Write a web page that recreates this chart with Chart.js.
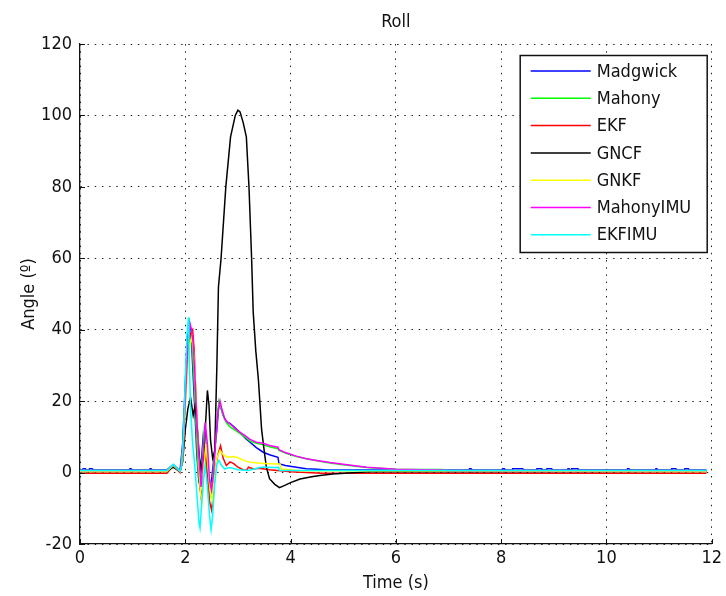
<!DOCTYPE html>
<html>
<head>
<meta charset="utf-8">
<title>Roll</title>
<script src="https://cdn.jsdelivr.net/npm/chart.js@4.4.1/dist/chart.umd.min.js"></script>
<style>
  html, body { margin: 0; padding: 0; background: #ffffff; }
  #wrap { width: 726px; height: 596px; }
</style>
</head>
<body>
<div id="wrap"><canvas id="rollChart" width="726" height="596"></canvas></div>
<script>
// Roll angle estimated by each filter (degrees) against time (s)
const seriesNames = ['Madgwick', 'Mahony', 'EKF', 'GNCF', 'GNKF', 'MahonyIMU', 'EKFIMU'];
const seriesColors = ['#0000ff', '#00ff00', '#ff0000', '#000000', '#ffff00', '#ff00ff', '#00ffff'];

const xTicks = [0, 2, 4, 6, 8, 10, 12];
const yTicks = [-20, 0, 20, 40, 60, 80, 100, 120];

const tMadgwick = [0, 0.05, 0.06, 0.1, 0.11, 0.17, 0.18, 0.23, 0.24, 0.94, 0.95, 0.97, 0.98, 1.32, 1.33, 1.35, 1.36,
  1.65, 1.77, 1.9, 1.95, 2.0, 2.04, 2.08, 2.11, 2.14, 2.18, 2.22, 2.26, 2.3, 2.34, 2.38, 2.42, 2.46, 2.5, 2.55,
  2.6, 2.64, 2.68, 2.72, 2.78, 2.85, 2.95, 3.05, 3.15, 3.23, 3.35, 3.48, 3.6, 3.76, 3.78, 3.9, 4.11, 4.3, 4.5,
  4.7, 7.39, 7.4, 7.43, 7.44, 8.02, 8.03, 8.06, 8.07, 8.21, 8.22, 8.41, 8.42, 8.67, 8.68, 8.77, 8.78, 8.86,
  8.87, 8.96, 8.97, 9.26, 9.27, 9.29, 9.3, 9.33, 9.34, 9.46, 9.47, 10.39, 10.4, 10.43, 10.44, 10.93, 10.94,
  10.96, 10.97, 11.23, 11.24, 11.32, 11.33, 11.48, 11.49, 11.56, 11.57, 11.9];
const madgwick = [0.7, 0.7, 1.1, 1.1, 0.7, 0.7, 1.1, 1.1, 0.7, 0.7, 1.1, 1.1, 0.7, 0.7, 1.1, 1.1, 0.7,
  0.7, 2.2, 0.5, 8, 25, 38, 42, 39, 30, 18, 5, -3, 2, 10, 6, -2, -5, -2, 5,
  12, 19.5, 18, 16, 14.2, 13.8, 12.5, 11, 9.5, 8.5, 7, 5.7, 5, 4.3, 2.5, 2.0, 1.5, 1.1, 0.9,
  0.7, 0.7, 1.1, 1.1, 0.7, 0.7, 1.1, 1.1, 0.7, 0.7, 1.1, 1.1, 0.7, 0.7, 1.1, 1.1, 0.7, 0.7,
  1.1, 1.1, 0.7, 0.7, 1.1, 1.1, 0.7, 0.7, 1.1, 1.1, 0.7, 0.7, 1.1, 1.1, 0.7, 0.7, 1.1,
  1.1, 0.7, 0.7, 1.1, 1.1, 0.7, 0.7, 1.1, 1.1, 0.7, 0.7];

const tMahony = [0, 1.65, 1.77, 1.9, 1.95, 2.0, 2.04, 2.08, 2.12, 2.16, 2.2, 2.24, 2.28, 2.32, 2.36, 2.4, 2.44,
  2.48, 2.52, 2.56, 2.6, 2.64, 2.67, 2.72, 2.78, 2.85, 2.95, 3.05, 3.15, 3.23, 3.35, 3.48, 3.6, 3.76, 3.78,
  3.9, 4.11, 4.3, 4.5, 4.75, 5.0, 5.45, 6.0, 6.5, 6.9, 6.95, 11.9];
const mahony = [0.6, 0.6, 2.2, 0.4, 6, 22, 35, 40, 38, 28, 15, 2, -5, 3, 12, 8, -3,
  -6, -2, 6, 14, 20, 18.5, 16, 14, 12.8, 11.8, 10.8, 9.8, 8.8, 8.2, 7.8, 7.2, 6.7, 6.2,
  5.5, 4.5, 3.9, 3.3, 2.7, 2.2, 1.4, 0.95, 0.85, 0.85, 0.6, 0.6];

const tEKF = [0, 1.65, 1.77, 1.9, 1.94, 1.98, 2.02, 2.06, 2.1, 2.14, 2.17, 2.2, 2.24, 2.28, 2.31, 2.34, 2.38,
  2.42, 2.46, 2.5, 2.54, 2.58, 2.62, 2.67, 2.72, 2.78, 2.85, 2.92, 3.0, 3.1, 3.16, 3.2, 3.3, 3.4, 3.6, 3.8,
  4.0, 4.3, 4.6, 11.9];
const ekf = [-0.2, -0.2, 2.0, 0, 4, 15, 28, 36, 39, 40, 34, 22, 8, -4, -8, -2, 6,
  0, -8, -10.5, -5, 2, 5, 7.5, 4, 2, 3, 2.5, 1.5, 0.8, 0.6, 1.5, 1.0, 1.2, 0.8, 0.5,
  0.2, 0, -0.2, -0.2];

const tGNCF = [0, 1.65, 1.77, 1.9, 1.95, 2.0, 2.05, 2.1, 2.15, 2.19, 2.23, 2.27, 2.31, 2.35, 2.39, 2.42, 2.45,
  2.48, 2.52, 2.56, 2.6, 2.63, 2.68, 2.77, 2.86, 2.95, 3.0, 3.04, 3.1, 3.16, 3.21, 3.26, 3.29, 3.34, 3.39,
  3.45, 3.5, 3.54, 3.6, 3.7, 3.79, 3.9, 4.0, 4.18, 4.4, 4.56, 4.8, 5.1, 5.5, 11.9];
const gncf = [0.3, 0.3, 1.5, 0.2, 3, 12, 18, 21, 16, 19, 12, 4, 1, 5, 15, 23, 19,
  9, 4, 6, 30, 52, 60, 80, 94, 100, 101.5, 101, 98, 94, 80, 60, 45, 34, 25.8,
  12, 6, 1.5, -1.7, -3.3, -4.2, -3.5, -2.8, -1.8, -1.2, -0.8, -0.4, -0.1, 0.2, 0.3];

const tGNKF = [0, 1.65, 1.77, 1.9, 1.95, 2.0, 2.05, 2.09, 2.13, 2.17, 2.21, 2.25, 2.29, 2.32, 2.35, 2.39, 2.43,
  2.47, 2.51, 2.55, 2.6, 2.66, 2.72, 2.8, 2.9, 2.97, 3.05, 3.15, 3.25, 3.42, 3.6, 3.8, 3.82, 4.0, 4.2, 11.9];
const gnkf = [0.3, 0.3, 2.0, 0.2, 4, 18, 30, 36, 38, 32, 20, 5, -6, -8, 0, 8, 2,
  -5, -8, -2, 4, 6.2, 5, 4.3, 4.5, 4.3, 3.8, 3.2, 2.9, 2.6, 2.5, 2.4, 1.0, 0.8, 0.5, 0.3];

const tMahonyIMU = [0, 1.65, 1.77, 1.9, 1.95, 2.0, 2.05, 2.09, 2.12, 2.15, 2.18, 2.22, 2.26, 2.3, 2.34, 2.38,
  2.42, 2.46, 2.5, 2.54, 2.58, 2.62, 2.66, 2.7, 2.75, 2.8, 2.85, 2.95, 3.05, 3.15, 3.23, 3.35, 3.48, 3.6,
  3.76, 3.78, 3.9, 4.11, 4.3, 4.5, 4.75, 5.0, 5.45, 6.0, 6.5, 6.9, 6.95, 11.9];
const mahonyIMU = [0.6, 0.6, 2.2, 0.4, 5, 20, 36, 41.6, 40, 36, 28, 15, 4, -4, 5, 14,
  8, -2, -5, 0, 10, 17, 20, 17.5, 15, 14.2, 13.6, 12.3, 11.2, 10.2, 9.3, 8.5, 8.2, 7.6,
  7.1, 6.4, 5.6, 4.6, 3.9, 3.4, 2.8, 2.3, 1.5, 0.9, 0.8, 0.75, 0.6, 0.6];

const tEKFIMU = [0, 1.65, 1.77, 1.9, 1.93, 1.97, 2.0, 2.03, 2.06, 2.07, 2.1, 2.14, 2.18, 2.22, 2.26, 2.28,
  2.31, 2.35, 2.38, 2.42, 2.46, 2.49, 2.52, 2.56, 2.6, 2.64, 2.68, 2.75, 2.85, 3.0, 3.2, 3.3, 3.45, 3.55,
  3.7, 3.77, 3.79, 4.2, 11.9];
const ekfIMU = [0.6, 0.6, 2.3, 0.4, 2, 12, 26, 38, 43.5, 35, 18, 8, 2, -6, -14, -15.5,
  -9, -1.5, 2, -4, -12, -16, -12, -3, 2.4, 3.4, 2.2, 1.0, 1.4, 0.8, 0.6, 1.0, 1.5, 1.5,
  1.4, 1.5, 0.6, 0.6, 0.6];

const seriesTimes = [tMadgwick, tMahony, tEKF, tGNCF, tGNKF, tMahonyIMU, tEKFIMU];
const seriesValues = [madgwick, mahony, ekf, gncf, gnkf, mahonyIMU, ekfIMU];

const FONT = "'DejaVu Sans Condensed', 'Liberation Sans', Arial, sans-serif";
const FONT_SIZE = 18;
const INK = '#111111';

// Later series are painted over earlier ones (lower order = drawn last)
const datasets = seriesNames.map((name, i) => ({
  label: name,
  data: seriesTimes[i].map((t, k) => ({ x: t, y: seriesValues[i][k] })),
  borderColor: seriesColors[i],
  backgroundColor: seriesColors[i],
  borderWidth: 1.5,
  pointRadius: 0,
  tension: 0,
  fill: false,
  order: seriesNames.length - i
}));

// Short tick marks pointing into the plot area, on the left and bottom axes
const innerTicks = {
  id: 'innerTicks',
  afterDatasetsDraw(chart) {
    const { ctx, chartArea, scales } = chart;
    ctx.save();
    ctx.strokeStyle = INK;
    ctx.lineWidth = 1;
    ctx.beginPath();
    xTicks.forEach(v => {
      const px = Math.round(scales.x.getPixelForValue(v)) + 0.5;
      ctx.moveTo(px, chartArea.bottom);
      ctx.lineTo(px, chartArea.bottom - 5);
    });
    yTicks.forEach(v => {
      const py = Math.round(scales.y.getPixelForValue(v)) + 0.5;
      ctx.moveTo(chartArea.left, py);
      ctx.lineTo(chartArea.left + 5, py);
    });
    ctx.stroke();
    ctx.restore();
  }
};

// Boxed legend in the upper-right corner of the plot area
const boxLegend = {
  id: 'boxLegend',
  afterDatasetsDraw(chart) {
    const { ctx, chartArea } = chart;
    const rowH = 27.3;
    const w = 187, h = 197;
    const x0 = chartArea.right - 5 - w;
    const y0 = chartArea.top + 11;
    ctx.save();
    ctx.fillStyle = '#ffffff';
    ctx.fillRect(x0, y0, w, h);
    ctx.strokeStyle = '#111111';
    ctx.lineWidth = 1.5;
    ctx.strokeRect(x0 + 0.5, y0 + 0.5, w, h);
    ctx.font = FONT_SIZE + 'px ' + FONT;
    ctx.textBaseline = 'middle';
    ctx.textAlign = 'left';
    chart.data.datasets.forEach((ds, i) => {
      const cy = y0 + 16 + i * rowH;
      ctx.strokeStyle = ds.borderColor;
      ctx.lineWidth = 1.5;
      ctx.beginPath();
      ctx.moveTo(x0 + 11, cy);
      ctx.lineTo(x0 + 71, cy);
      ctx.stroke();
      ctx.fillStyle = INK;
      ctx.fillText(ds.label, x0 + 77, cy + 1);
    });
    ctx.restore();
  }
};

new Chart(document.getElementById('rollChart'), {
  type: 'line',
  data: { datasets },
  plugins: [innerTicks, boxLegend],
  options: {
    responsive: false,
    animation: false,
    events: [],
    layout: { padding: { left: 0, right: 14, top: 0, bottom: 0 } },
    plugins: {
      legend: { display: false },
      tooltip: { enabled: false },
      title: {
        display: true,
        text: 'Roll',
        fullSize: false,
        color: INK,
        font: { family: FONT, size: FONT_SIZE, weight: 'normal', lineHeight: 1.2 },
        padding: { top: 12, bottom: 10.4 }
      }
    },
    scales: {
      x: {
        type: 'linear',
        min: 0,
        max: 12,
        afterBuildTicks(scale) { scale.ticks = xTicks.map(v => ({ value: v })); },
        afterFit(scale) { scale.height = 52; },
        grid: { color: '#222222', lineWidth: 1, drawTicks: false },
        border: { display: true, color: INK, width: 1.3, dash: [1.5, 5.7] },
        ticks: { color: INK, font: { family: FONT, size: FONT_SIZE }, padding: 4, maxRotation: 0 },
        title: {
          display: true,
          text: 'Time (s)',
          color: INK,
          font: { family: FONT, size: FONT_SIZE },
          padding: { top: 0, bottom: 2 }
        }
      },
      y: {
        type: 'linear',
        min: -20,
        max: 120,
        afterBuildTicks(scale) { scale.ticks = yTicks.map(v => ({ value: v })); },
        afterFit(scale) { scale.width = 80; },
        grid: { color: '#222222', lineWidth: 1, drawTicks: false },
        border: { display: true, color: INK, width: 1.3, dash: [1.5, 5.7] },
        ticks: { color: INK, font: { family: FONT, size: FONT_SIZE }, padding: 8 },
        title: {
          display: true,
          text: 'Angle (º)',
          color: INK,
          font: { family: FONT, size: FONT_SIZE },
          padding: { top: 19, bottom: 0 }
        }
      }
    }
  }
});
</script>
</body>
</html>
